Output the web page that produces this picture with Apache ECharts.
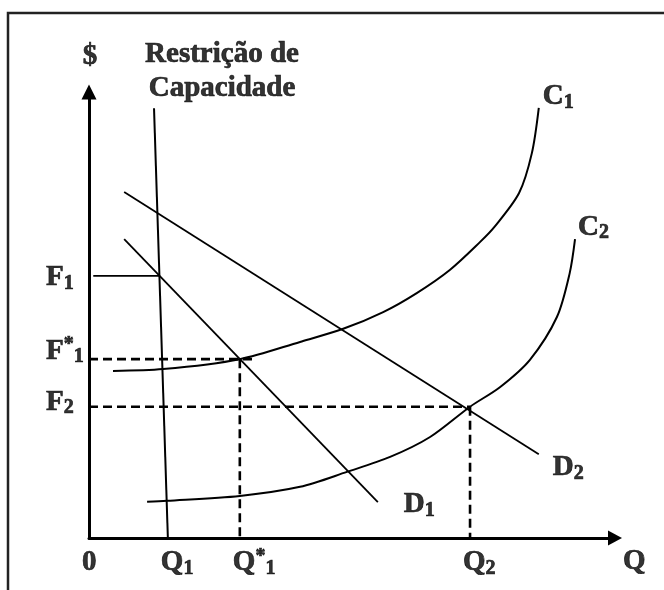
<!DOCTYPE html>
<html>
<head>
<meta charset="utf-8">
<script src="https://cdn.jsdelivr.net/npm/echarts@6/dist/echarts.min.js"></script>
<style>
  html, body { margin: 0; padding: 0; background: #fff; }
  #chart { width: 664px; height: 590px; }
</style>
</head>
<body>
<div id="chart"></div>
<script>
// ---- data (Q on x, $ on y, arbitrary units) ----
var capacityLine = [[12.2, 94.9], [14.8, 0]];
var demand1 = [[6.6, 66.0], [54.2, 7.9]];
var demand2 = [[6.6, 76.4], [84.4, 18.5]];
var cost1 = [[4.5, 36.9], [13.9, 37.3], [28.3, 39.5], [39.6, 43.3], [47.7, 46.2], [55.2, 49.9],
             [61.5, 54.1], [67.7, 59.2], [73.4, 65.4], [76.0, 68.6], [80.7, 76.2], [83.1, 85.0], [84.4, 95.0]];
var cost2 = [[10.9, 8.0], [14.6, 8.2], [28.3, 9.3], [39.6, 11.3], [48.4, 14.6], [56.5, 17.9],
             [64.0, 22.3], [71.5, 29.0], [77.1, 33.3], [82.7, 39.3], [87.8, 48.8], [90.2, 58.5], [91.2, 66.0]];

var qTicks = [0, 14.8, 28.3, 71.5];
var qTickLabels = ['0', 'Q_1', 'Q^*_1', 'Q_2'];
var fTicks = [57.9, 39.5, 29.0];
var fTickLabels = ['F_1', 'F^*_1', 'F_2'];

var curveLabels = ['C_1', 'C_2', 'D_1', 'D_2'];
var capacityTitle = ['Restrição de', 'Capacidade'];
var xName = 'Q';
var yName = '$';

// ---- helpers ----
var font = "'Liberation Serif', 'Times New Roman', Times, serif";

function rich(s) {
    var m = s.match(/^([^_^]+)(?:\^(.))?(?:_(.))?$/);
    var out = '{m|' + m[1] + '}';
    if (m[2]) out += '{p|' + m[2] + '}';
    if (m[3]) out += '{s|' + m[3] + '}';
    return out;
}

function lbl(pos, text, dx, dy, align) {
    return {
        value: pos,
        label: { formatter: text, offset: [dx, dy], align: align || 'left' }
    };
}

function seg(data, width, dashed) {
    return {
        type: 'line',
        data: data,
        symbol: 'none',
        silent: true,
        clip: false,
        lineStyle: { color: '#000', width: width, type: dashed ? [9, 5] : 'solid' }
    };
}

function txt(size, lh, va) {
    var o = { fontFamily: font, fontWeight: 'bold', fontSize: size, lineHeight: lh, color: '#000',
              textBorderColor: '#000', textBorderWidth: 0.7 };
    if (va) o.verticalAlign = va;
    return o;
}

// ---- build ----
var chart = echarts.init(document.getElementById('chart'), null, { renderer: 'canvas' });

var fStar = fTicks[1], f2 = fTicks[2], f1 = fTicks[0];
var qStar = qTicks[2], q2 = qTicks[3];

var labelData = [];
var fDy = [1.5, -8, -4.5];
fTicks.forEach(function (v, i) { labelData.push(lbl([0, v], rich(fTickLabels[i]), -43, fDy[i])); });
qTicks.forEach(function (v, i) { labelData.push(lbl([v, 0], rich(qTickLabels[i]), -7, 24.5)); });
labelData.push(lbl(cost1[cost1.length - 1], rich(curveLabels[0]), 4, -11.5));
labelData.push(lbl(cost2[cost2.length - 1], rich(curveLabels[1]), 3, -12));
labelData.push(lbl(demand1[1], rich(curveLabels[2]), 26, 2.5));
labelData.push(lbl(demand2[1], rich(curveLabels[3]), 14, 13.5));
labelData.push(lbl(capacityLine[0], '{t|' + capacityTitle.join('}\n{t|') + '}', 68, -37, 'center'));
labelData.push(lbl([0, 98.5], '{m|' + yName + '}', 1, -35, 'center'));
labelData.push(lbl([98.7, 0], '{m|' + xName + '}', 8, 24));

var option = {
    animation: false,
    backgroundColor: '#fff',
    grid: { left: 89, right: 49, top: 92, bottom: 52 },
    xAxis: {
        type: 'value', min: 0, max: 98.7,
        axisLine: { show: true, lineStyle: { color: '#000', width: 3 }, symbol: ['none', 'triangle'], symbolSize: [15, 14] },
        axisTick: { show: false }, axisLabel: { show: false }, splitLine: { show: false }
    },
    yAxis: {
        type: 'value', min: 0, max: 98.5,
        axisLine: { show: true, lineStyle: { color: '#000', width: 3 }, symbol: ['none', 'triangle'], symbolSize: [15, 15] },
        axisTick: { show: false }, axisLabel: { show: false }, splitLine: { show: false }
    },
    graphic: [
        { type: 'polyline', shape: { points: [[8, 590], [8, 13], [664, 13]] }, style: { stroke: '#222', lineWidth: 2.5, fill: null }, silent: true }
    ],
    series: [
        seg(capacityLine, 2),
        seg([[0.8, f1], [13.2, f1]], 1.8),
        seg(demand1, 1.8),
        seg(demand2, 1.8),
        Object.assign(seg(cost1, 2), { smooth: 0.3 }),
        Object.assign(seg(cost2, 2), { smooth: 0.3 }),
        seg([[0, fStar], [qStar + 2.5, fStar]], 2.6, true),
        seg([[qStar, fStar], [qStar, 0]], 2.6, true),
        seg([[0, f2], [q2, f2]], 2.6, true),
        seg([[q2, f2], [q2, 0]], 2.6, true),
        {
            type: 'scatter',
            symbolSize: 0,
            silent: true,
            clip: false,
            data: labelData,
            label: {
                show: true,
                position: 'inside',
                verticalAlign: 'middle',
                color: '#000',
                fontFamily: font,
                fontWeight: 'bold',
                rich: {
                    m: txt(29, 32),
                    s: txt(20, 10, 'bottom'),
                    p: txt(20, 20, 'top'),
                    t: Object.assign(txt(29, 34), { align: 'center' })
                }
            },
            emphasis: { disabled: true }
        }
    ]
};
chart.setOption(option);
</script>
</body>
</html>
